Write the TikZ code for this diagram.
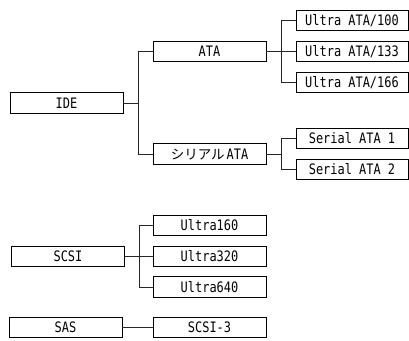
\documentclass[tikz,border=0pt]{standalone}
\usepackage{fontspec}
\newfontfamily\latmono[FakeStretch=0.83]{DejaVu Sans Mono}
\newfontfamily\jpfont{Noto Sans CJK JP}
\begin{document}
\begin{tikzpicture}[x=1pt,y=-1pt,
  box/.style={draw=black,line width=0.8pt,fill=white,minimum height=20.5pt,inner sep=0pt,
    text height=10.5pt,text depth=0pt,font=\fontsize{14.4}{16}\latmono},
  lbox/.style={box,minimum width=113pt},
  rbox/.style={box,minimum width=112pt},
  conn/.style={line width=0.8pt,draw=black!85}]
\useasboundingbox (0,0) rectangle (409,340);
% left column
\node[lbox] (IDE)  at (66.5,103) {IDE};
\node[lbox] (SCSI) at (68,256.5) {SCSI};
\node[lbox] (SAS)  at (65.5,327.5) {SAS};
% middle column
\node[lbox] (ATA)  at (209.5,51.5) {ATA};
\node[lbox] (SATA) at (209.5,154) {{\fontsize{13.5}{16}\jpfont シリアル}\kern2pt ATA};
\node[lbox] (U160) at (209.5,225.5) {Ultra160};
\node[lbox] (U320) at (209.5,256.5) {Ultra320};
\node[lbox] (U640) at (209.5,287) {Ultra640};
\node[lbox] (SCSIthree) at (209.5,327.5) {SCSI-3};
% right column
\node[rbox] (UA100) at (352,20.5) {Ultra ATA/100};
\node[rbox] (UA133) at (352,51.5) {Ultra ATA/133};
\node[rbox] (UA166) at (352,82.5) {Ultra ATA/166};
\node[rbox] (SA1) at (352,138.5) {Serial ATA 1};
\node[rbox] (SA2) at (352,169.5) {Serial ATA 2};
% connectors
\draw[conn] (IDE.east) -- ++(15,0) coordinate (jIDE) |- (ATA.west);
\draw[conn] (jIDE) |- (SATA.west);
\draw[conn] (ATA.east) -- ++(15,0) coordinate (jATA) |- (UA100.west);
\draw[conn] (jATA) -- (UA133.west);
\draw[conn] (jATA) |- (UA166.west);
\draw[conn] (SATA.east) -- ++(15,0) coordinate (jSATA) |- (SA1.west);
\draw[conn] (jSATA) |- (SA2.west);
\draw[conn] (SCSI.east) -- ++(14,0) coordinate (jSCSI) |- (U160.west);
\draw[conn] (jSCSI) -- (U320.west);
\draw[conn] (jSCSI) |- (U640.west);
\draw[conn] (SAS.east) -- (SCSIthree.west);
\end{tikzpicture}
\end{document}
